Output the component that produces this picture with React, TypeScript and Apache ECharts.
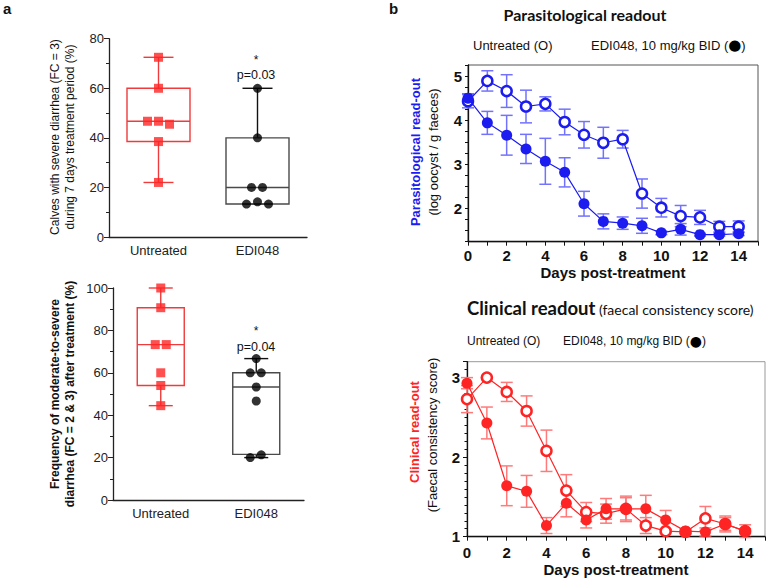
import React, { useEffect, useRef } from 'react';
import * as echarts from 'echarts';

// ---------- Panel a data ----------
const groups = ['Untreated', 'EDI048'];

// top: calves with severe diarrhea (%)
const severeUntreated = [72.5, 60, 46.7, 46.7, 45.5, 38.5, 22];
const severeEDI = [60, 40, 20, 20, 13.3, 14.2, 13.3];
const severeBoxUntreated = [22, 38.5, 46.7, 60, 72.5]; // min, q1, median, q3, max
const severeBoxEDI = [13.3, 13.3, 20, 40, 60];
const severeJitterUntreated = [0, 0, -11, 0, 11, 0, 0];
const severeJitterEDI = [0, 0, -6, 5, -11, 0, 11];
const severeTicks = [0, 20, 40, 60, 80];

// bottom: frequency of moderate-to-severe diarrhea (%)
const modUntreated = [100, 90.7, 73.3, 73.3, 60, 54, 44.5];
const modEDI = [66.7, 60, 60, 53.3, 46.7, 20, 21.3];
const modBoxUntreated = [44.5, 54, 73.3, 90.7, 100];
const modBoxEDI = [20, 21.5, 53.3, 60, 66.7];
const modJitterUntreated = [0, 0, -5.5, 5.5, 0, 0, 0];
const modJitterEDI = [0, -6, 5, 0, 0, -6, 5];
const modTicks = [0, 20, 40, 60, 80, 100];

const pValues = ['p=0.03', 'p=0.04'];

// ---------- Panel b data ----------
const days = [0, 1, 2, 3, 4, 5, 6, 7, 8, 9, 10, 11, 12, 13, 14];

const paraUntreated = [4.43, 4.89, 4.66, 4.31, 4.37, 3.96, 3.67, 3.49, 3.57, 2.34, 2.02, 1.83, 1.8, 1.59, 1.59];
const paraUntreatedErr = [0.15, 0.23, 0.37, 0.37, 0.16, 0.29, 0.3, 0.35, 0.2, 0.33, 0.21, 0.24, 0.16, 0.12, 0.13];
const paraEDI = [4.5, 3.94, 3.66, 3.35, 3.07, 2.82, 2.11, 1.71, 1.67, 1.61, 1.45, 1.53, 1.41, 1.41, 1.43];
const paraEDIErr = [0.1, 0.26, 0.45, 0.33, 0.52, 0.33, 0.28, 0.17, 0.14, 0.17, 0.04, 0.13, 0.03, 0.03, 0.04];

const clinUntreated = [2.73, 3.0, 2.82, 2.58, 2.08, 1.58, 1.31, 1.29, 1.35, 1.14, 1.07, 1.06, 1.23, 1.16, 1.07];
const clinUntreatedErr = [0.17, 0, 0.12, 0.19, 0.26, 0.2, 0.12, 0.12, 0.14, 0.1, 0.02, 0.02, 0.15, 0.1, 0.03];
const clinEDI = [2.93, 2.43, 1.64, 1.57, 1.14, 1.42, 1.21, 1.35, 1.35, 1.35, 1.21, 1.07, 1.06, 1.16, 1.07];
const clinEDIErr = [0.07, 0.2, 0.25, 0.2, 0.1, 0.17, 0.1, 0.13, 0.16, 0.17, 0.12, 0.03, 0.05, 0.08, 0.08];

// ---------- styles ----------
const ARIAL = 'Liberation Sans, Arial, sans-serif';
const TITLE = 'Lato, sans-serif';
const RED = '#ff2424';
const RED_BOX = '#ef3b3b';
const RED_ERR = '#ff7a7a';
const BLUE = '#1c1cf0';
const BLUE_ERR = '#7272ff';
const BLACK = '#000';

function boxRenderer(boxW: number, capW: number) {
  const colors = [RED_BOX, '#4a4a4a'];
  const whisk = [RED_BOX, '#111'];
  return (params: any, api: any) => {
    const idx = api.value(0);
    const x = api.coord([idx, 0])[0];
    const yMin = api.coord([idx, api.value(1)])[1];
    const yQ1 = api.coord([idx, api.value(2)])[1];
    const yMed = api.coord([idx, api.value(3)])[1];
    const yQ3 = api.coord([idx, api.value(4)])[1];
    const yMax = api.coord([idx, api.value(5)])[1];
    const c = colors[params.dataIndex];
    const w = whisk[params.dataIndex];
    const ls = (x1: number, y1: number, x2: number, y2: number, col: string) => ({
      type: 'line',
      shape: { x1, y1, x2, y2 },
      style: { stroke: col, lineWidth: 1.4 },
    });
    return {
      type: 'group',
      children: [
        ls(x, yQ3, x, yMax, w),
        ls(x, yQ1, x, yMin, w),
        ls(x - capW / 2, yMax, x + capW / 2, yMax, w),
        ls(x - capW / 2, yMin, x + capW / 2, yMin, w),
        {
          type: 'rect',
          shape: { x: x - boxW / 2, y: yQ3, width: boxW, height: yQ1 - yQ3 },
          style: { fill: 'none', stroke: c, lineWidth: 1.4 },
        },
        ls(x - boxW / 2, yMed, x + boxW / 2, yMed, c),
      ],
    };
  };
}

function errRenderer(capW: number, color: string) {
  return (params: any, api: any) => {
    const x = api.value(0);
    const y = api.value(1);
    const e = api.value(2);
    const top = api.coord([x, y + e]);
    const bot = api.coord([x, y - e]);
    const st = { stroke: color, lineWidth: 1.5 };
    return {
      type: 'group',
      children: [
        { type: 'line', shape: { x1: top[0], y1: top[1], x2: bot[0], y2: bot[1] }, style: st },
        { type: 'line', shape: { x1: top[0] - capW / 2, y1: top[1], x2: top[0] + capW / 2, y2: top[1] }, style: st },
        { type: 'line', shape: { x1: bot[0] - capW / 2, y1: bot[1], x2: bot[0] + capW / 2, y2: bot[1] }, style: st },
      ],
    };
  };
}

function catAxis(gridIndex: number) {
  return {
    type: 'category',
    gridIndex,
    data: groups,
    boundaryGap: true,
    axisLine: { lineStyle: { color: '#222', width: 1.3 } },
    axisTick: { alignWithLabel: true, length: 4, lineStyle: { color: '#222' } },
    axisLabel: { fontFamily: ARIAL, fontSize: 13, color: '#222', margin: 7 },
    splitLine: { show: false },
  };
}

function boxYAxis(gridIndex: number, ticks: number[]) {
  return {
    type: 'value',
    gridIndex,
    min: ticks[0],
    max: ticks[ticks.length - 1],
    interval: ticks[1] - ticks[0],
    axisLine: { show: true, lineStyle: { color: '#222', width: 1.3 } },
    axisTick: { show: true, length: 5, lineStyle: { color: '#222' } },
    minorTick: { show: true, splitNumber: 2, length: 3, lineStyle: { color: '#222' } },
    axisLabel: { fontFamily: ARIAL, fontSize: 13, color: '#222', margin: 5 },
    splitLine: { show: false },
    minorSplitLine: { show: false },
  };
}

function dayAxis(gridIndex: number, margin: number, nameGap: number) {
  return {
    type: 'value',
    gridIndex,
    min: 0,
    max: 15,
    interval: 1,
    name: 'Days post-treatment',
    nameLocation: 'middle',
    nameGap,
    nameTextStyle: { fontFamily: ARIAL, fontSize: 15, fontWeight: 'bold', color: '#111' },
    axisLine: { show: true, onZero: false, lineStyle: { color: '#111', width: 1.3 } },
    axisTick: { show: true, length: 4, lineStyle: { color: '#111' } },
    axisLabel: {
      fontFamily: ARIAL,
      fontSize: 15,
      fontWeight: 'bold',
      color: '#111',
      margin,
      formatter: (v: number) => (v % 2 === 0 && v <= 14 ? String(v) : ''),
    },
    splitLine: { show: false },
  };
}

function scatterData(vals: number[], idx: number, jitter: number[]) {
  return vals.map((v, i) => ({ value: [idx, v], symbolOffset: [jitter[i], 0] }));
}

function lineData(vals: number[]) {
  return days.map((d, i) => [d, vals[i]]);
}

function errData(vals: number[], errs: number[]) {
  return days.map((d, i) => [d, vals[i], errs[i]]);
}

function vText(x: number, y: number, text: string, bold: boolean, color: string, size: number) {
  return {
    type: 'text',
    x,
    y,
    rotation: Math.PI / 2,
    style: {
      text,
      fontFamily: ARIAL,
      fontSize: size,
      fontWeight: bold ? 'bold' : 'normal',
      fill: color,
      align: 'center',
      verticalAlign: 'middle',
    },
  };
}

function hText(x: number, y: number, text: string, opts: any = {}) {
  return {
    type: 'text',
    x,
    y,
    style: {
      text,
      fontFamily: ARIAL,
      fontSize: 13,
      fill: '#111',
      align: 'left',
      verticalAlign: 'middle',
      ...opts,
    },
  };
}

function legendEDI(x: number, y: number, size: number, dot: number) {
  return {
    type: 'text',
    x,
    y,
    style: {
      text: '{t|EDI048, 10 mg/kg BID (}{c|\u25CF}{t|)}',
      align: 'left',
      verticalAlign: 'middle',
      rich: {
        t: { fontFamily: ARIAL, fontSize: size, fill: '#111' },
        c: { fontFamily: 'DejaVu Sans, sans-serif', fontSize: dot, fill: '#000' },
      },
    },
  };
}

export default function App() {
  const ref = useRef<HTMLDivElement>(null);

  useEffect(() => {
    document.body.style.margin = '0';
    if (!ref.current) return;
    const chart = echarts.init(ref.current, undefined, { renderer: 'svg' });

    const option: any = {
      animation: false,
      backgroundColor: '#fff',
      grid: [
        { left: 109, top: 38.7, width: 198, height: 198.3 },
        { left: 113, top: 288, width: 191, height: 212 },
        { left: 468, top: 65, width: 290, height: 176.7, show: true, borderColor: '#555', borderWidth: 1 },
        { left: 467, top: 361.7, width: 300, height: 175, show: true, borderColor: '#999', borderWidth: 1 },
      ],
      xAxis: [catAxis(0), catAxis(1), dayAxis(2, 6, 23), dayAxis(3, 8, 25)],
      yAxis: [
        boxYAxis(0, severeTicks),
        boxYAxis(1, modTicks),
        {
          type: 'value',
          gridIndex: 2,
          min: 1.25,
          max: 5.25,
          interval: 0.25,
          axisLine: { show: true, onZero: false, lineStyle: { color: '#111', width: 1.3 } },
          axisTick: { show: true, length: 3, lineStyle: { color: '#111' } },
          axisLabel: {
            fontFamily: ARIAL,
            fontSize: 15,
            fontWeight: 'bold',
            color: '#111',
            margin: 6,
            formatter: (v: number) => (Math.abs(v - Math.round(v)) < 1e-6 ? String(Math.round(v)) : ''),
          },
          splitLine: { show: false },
        },
        {
          type: 'value',
          gridIndex: 3,
          min: 1,
          max: 3.2,
          interval: 1,
          axisLine: { show: true, onZero: false, lineStyle: { color: '#111', width: 1.3 } },
          axisTick: { show: true, length: 4, lineStyle: { color: '#111' } },
          minorTick: { show: true, splitNumber: 10, length: 2.5, lineStyle: { color: '#111' } },
          axisLabel: {
            fontFamily: ARIAL,
            fontSize: 15,
            fontWeight: 'bold',
            color: '#111',
            margin: 7,
            formatter: (v: number) => (Math.abs(v - Math.round(v)) < 1e-6 ? String(Math.round(v)) : ''),
          },
          splitLine: { show: false },
          minorSplitLine: { show: false },
        },
      ],
      series: [
        // Panel a top
        {
          type: 'custom',
          xAxisIndex: 0,
          yAxisIndex: 0,
          renderItem: boxRenderer(63, 30),
          encode: { x: 0, y: [1, 2, 3, 4, 5] },
          data: [[0, ...severeBoxUntreated], [1, ...severeBoxEDI]],
          z: 2,
        },
        {
          type: 'scatter',
          xAxisIndex: 0,
          yAxisIndex: 0,
          symbol: 'rect',
          symbolSize: 9,
          itemStyle: { color: RED },
          data: scatterData(severeUntreated, 0, severeJitterUntreated),
          z: 3,
        },
        {
          type: 'scatter',
          xAxisIndex: 0,
          yAxisIndex: 0,
          symbol: 'circle',
          symbolSize: 9,
          itemStyle: { color: BLACK },
          data: scatterData(severeEDI, 1, severeJitterEDI),
          z: 3,
        },
        // Panel a bottom
        {
          type: 'custom',
          xAxisIndex: 1,
          yAxisIndex: 1,
          renderItem: boxRenderer(47, 24),
          encode: { x: 0, y: [1, 2, 3, 4, 5] },
          data: [[0, ...modBoxUntreated], [1, ...modBoxEDI]],
          z: 2,
        },
        {
          type: 'scatter',
          xAxisIndex: 1,
          yAxisIndex: 1,
          symbol: 'rect',
          symbolSize: 9,
          itemStyle: { color: RED },
          data: scatterData(modUntreated, 0, modJitterUntreated),
          z: 3,
        },
        {
          type: 'scatter',
          xAxisIndex: 1,
          yAxisIndex: 1,
          symbol: 'circle',
          symbolSize: 9,
          itemStyle: { color: BLACK },
          data: scatterData(modEDI, 1, modJitterEDI),
          z: 3,
        },
        // Panel b top: parasitological
        {
          type: 'custom',
          xAxisIndex: 2,
          yAxisIndex: 2,
          renderItem: errRenderer(12, BLUE_ERR),
          encode: { x: 0, y: 1 },
          data: errData(paraUntreated, paraUntreatedErr),
          z: 1,
        },
        {
          type: 'custom',
          xAxisIndex: 2,
          yAxisIndex: 2,
          renderItem: errRenderer(12, BLUE_ERR),
          encode: { x: 0, y: 1 },
          data: errData(paraEDI, paraEDIErr),
          z: 1,
        },
        {
          type: 'line',
          xAxisIndex: 2,
          yAxisIndex: 2,
          data: lineData(paraUntreated),
          symbol: 'circle',
          symbolSize: 10,
          lineStyle: { color: BLUE, width: 1.2 },
          itemStyle: { color: '#fff', borderColor: BLUE, borderWidth: 2.5 },
          z: 3,
        },
        {
          type: 'line',
          xAxisIndex: 2,
          yAxisIndex: 2,
          data: lineData(paraEDI),
          symbol: 'circle',
          symbolSize: 11,
          lineStyle: { color: BLUE, width: 1.2 },
          itemStyle: { color: BLUE },
          z: 4,
        },
        // Panel b bottom: clinical
        {
          type: 'custom',
          xAxisIndex: 3,
          yAxisIndex: 3,
          renderItem: errRenderer(12, RED_ERR),
          encode: { x: 0, y: 1 },
          data: errData(clinUntreated, clinUntreatedErr),
          z: 1,
        },
        {
          type: 'custom',
          xAxisIndex: 3,
          yAxisIndex: 3,
          renderItem: errRenderer(12, RED_ERR),
          encode: { x: 0, y: 1 },
          data: errData(clinEDI, clinEDIErr),
          z: 1,
        },
        {
          type: 'line',
          xAxisIndex: 3,
          yAxisIndex: 3,
          data: lineData(clinUntreated),
          symbol: 'circle',
          symbolSize: 10,
          lineStyle: { color: RED, width: 1.2 },
          itemStyle: { color: '#fff', borderColor: RED, borderWidth: 2.5 },
          z: 3,
        },
        {
          type: 'line',
          xAxisIndex: 3,
          yAxisIndex: 3,
          data: lineData(clinEDI),
          symbol: 'circle',
          symbolSize: 11,
          lineStyle: { color: RED, width: 1.2 },
          itemStyle: { color: RED },
          z: 4,
        },
      ],
      graphic: [
        hText(3, 8, 'a', { fontWeight: 'bold', fontSize: 15 }),
        hText(389, 8, 'b', { fontWeight: 'bold', fontSize: 15 }),
        // panel a labels
        vText(55, 137, 'Calves with severe diarrhea (FC = 3)', false, '#111', 12),
        vText(70, 137, 'during 7 days treatment period (%)', false, '#111', 12),
        vText(55, 394, 'Frequency of moderate-to-severe', true, '#111', 12),
        vText(70, 394, 'diarrhea (FC = 2 & 3) after treatment (%)', true, '#111', 12),
        hText(256, 60, '*', { align: 'center', fontSize: 12 }),
        hText(256, 75, pValues[0], { align: 'center', fontSize: 12.5 }),
        hText(256, 331, '*', { align: 'center', fontSize: 12 }),
        hText(256, 347, pValues[1], { align: 'center', fontSize: 12.5 }),
        // panel b top
        hText(585, 14, 'Parasitological readout', {
          align: 'center',
          fontFamily: TITLE,
          fontWeight: 'bold',
          fontSize: 16,
        }),
        hText(473, 45, 'Untreated (O)', { fontSize: 13 }),
        legendEDI(591, 45, 13, 15),
        vText(415, 152, 'Parasitological read-out', true, BLUE, 13),
        vText(433, 152, '(log oocyst / g faeces)', false, '#111', 13),
        // panel b bottom
        {
          type: 'text',
          x: 467,
          y: 308,
          style: {
            text: '{b|Clinical readout}{r| (faecal consistency score)}',
            align: 'left',
            verticalAlign: 'middle',
            rich: {
              b: { fontFamily: TITLE, fontSize: 18.5, fontWeight: 'bold', fill: '#111', verticalAlign: 'bottom' },
              r: { fontFamily: TITLE, fontSize: 14, fill: '#111', verticalAlign: 'bottom', padding: [0, 0, 1, 0] },
            },
          },
        },
        hText(467, 341, 'Untreated (O)', { fontSize: 12 }),
        legendEDI(563, 341, 12, 14),
        vText(414, 432, 'Clinical read-out', true, RED, 13),
        vText(432, 435, '(Faecal consistency score)', false, '#111', 13),
      ],
    };

    chart.setOption(option);
    return () => chart.dispose();
  }, []);

  return <div ref={ref} style={{ width: 768, height: 580 }} />;
}
